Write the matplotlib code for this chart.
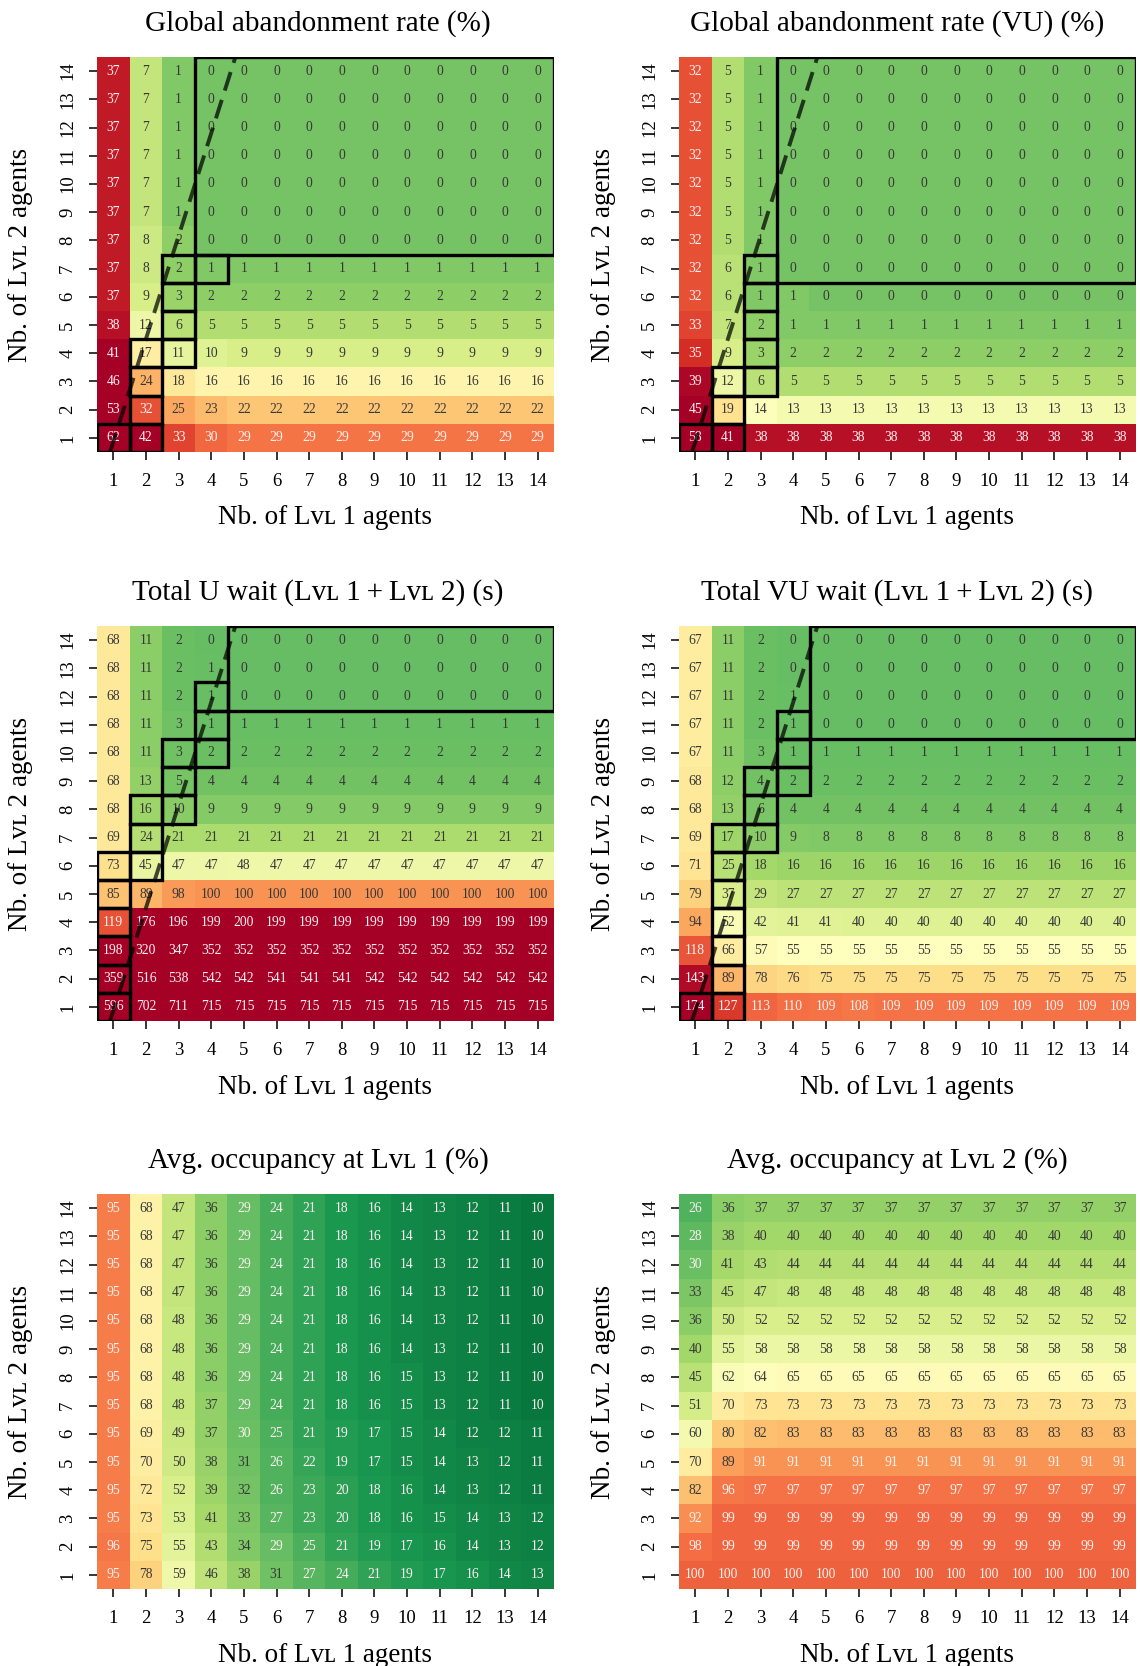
import numpy as np
import matplotlib.pyplot as plt
from matplotlib.patches import Rectangle

plt.rcParams['font.family'] = ['Liberation Serif', 'DejaVu Serif', 'DejaVu Sans']

# rows listed from top (14 Lvl 2 agents) down to bottom (1 Lvl 2 agent), cols = 1..14 Lvl 1 agents
abandon = [
    [37, 7, 1, 0, 0, 0, 0, 0, 0, 0, 0, 0, 0, 0],
    [37, 7, 1, 0, 0, 0, 0, 0, 0, 0, 0, 0, 0, 0],
    [37, 7, 1, 0, 0, 0, 0, 0, 0, 0, 0, 0, 0, 0],
    [37, 7, 1, 0, 0, 0, 0, 0, 0, 0, 0, 0, 0, 0],
    [37, 7, 1, 0, 0, 0, 0, 0, 0, 0, 0, 0, 0, 0],
    [37, 7, 1, 0, 0, 0, 0, 0, 0, 0, 0, 0, 0, 0],
    [37, 8, 2, 0, 0, 0, 0, 0, 0, 0, 0, 0, 0, 0],
    [37, 8, 2, 1, 1, 1, 1, 1, 1, 1, 1, 1, 1, 1],
    [37, 9, 3, 2, 2, 2, 2, 2, 2, 2, 2, 2, 2, 2],
    [38, 12, 6, 5, 5, 5, 5, 5, 5, 5, 5, 5, 5, 5],
    [41, 17, 11, 10, 9, 9, 9, 9, 9, 9, 9, 9, 9, 9],
    [46, 24, 18, 16, 16, 16, 16, 16, 16, 16, 16, 16, 16, 16],
    [53, 32, 25, 23, 22, 22, 22, 22, 22, 22, 22, 22, 22, 22],
    [62, 42, 33, 30, 29, 29, 29, 29, 29, 29, 29, 29, 29, 29],
]

abandon_vu = [
    [32, 5, 1, 0, 0, 0, 0, 0, 0, 0, 0, 0, 0, 0],
    [32, 5, 1, 0, 0, 0, 0, 0, 0, 0, 0, 0, 0, 0],
    [32, 5, 1, 0, 0, 0, 0, 0, 0, 0, 0, 0, 0, 0],
    [32, 5, 1, 0, 0, 0, 0, 0, 0, 0, 0, 0, 0, 0],
    [32, 5, 1, 0, 0, 0, 0, 0, 0, 0, 0, 0, 0, 0],
    [32, 5, 1, 0, 0, 0, 0, 0, 0, 0, 0, 0, 0, 0],
    [32, 5, 1, 0, 0, 0, 0, 0, 0, 0, 0, 0, 0, 0],
    [32, 6, 1, 0, 0, 0, 0, 0, 0, 0, 0, 0, 0, 0],
    [32, 6, 1, 1, 0, 0, 0, 0, 0, 0, 0, 0, 0, 0],
    [33, 7, 2, 1, 1, 1, 1, 1, 1, 1, 1, 1, 1, 1],
    [35, 9, 3, 2, 2, 2, 2, 2, 2, 2, 2, 2, 2, 2],
    [39, 12, 6, 5, 5, 5, 5, 5, 5, 5, 5, 5, 5, 5],
    [45, 19, 14, 13, 13, 13, 13, 13, 13, 13, 13, 13, 13, 13],
    [58, 41, 38, 38, 38, 38, 38, 38, 38, 38, 38, 38, 38, 38],
]

wait_u = [
    [68, 11, 2, 0, 0, 0, 0, 0, 0, 0, 0, 0, 0, 0],
    [68, 11, 2, 1, 0, 0, 0, 0, 0, 0, 0, 0, 0, 0],
    [68, 11, 2, 1, 0, 0, 0, 0, 0, 0, 0, 0, 0, 0],
    [68, 11, 3, 1, 1, 1, 1, 1, 1, 1, 1, 1, 1, 1],
    [68, 11, 3, 2, 2, 2, 2, 2, 2, 2, 2, 2, 2, 2],
    [68, 13, 5, 4, 4, 4, 4, 4, 4, 4, 4, 4, 4, 4],
    [68, 16, 10, 9, 9, 9, 9, 9, 9, 9, 9, 9, 9, 9],
    [69, 24, 21, 21, 21, 21, 21, 21, 21, 21, 21, 21, 21, 21],
    [73, 45, 47, 47, 48, 47, 47, 47, 47, 47, 47, 47, 47, 47],
    [85, 89, 98, 100, 100, 100, 100, 100, 100, 100, 100, 100, 100, 100],
    [119, 176, 196, 199, 200, 199, 199, 199, 199, 199, 199, 199, 199, 199],
    [198, 320, 347, 352, 352, 352, 352, 352, 352, 352, 352, 352, 352, 352],
    [359, 516, 538, 542, 542, 541, 541, 541, 542, 542, 542, 542, 542, 542],
    [596, 702, 711, 715, 715, 715, 715, 715, 715, 715, 715, 715, 715, 715],
]

wait_vu = [
    [67, 11, 2, 0, 0, 0, 0, 0, 0, 0, 0, 0, 0, 0],
    [67, 11, 2, 0, 0, 0, 0, 0, 0, 0, 0, 0, 0, 0],
    [67, 11, 2, 1, 0, 0, 0, 0, 0, 0, 0, 0, 0, 0],
    [67, 11, 2, 1, 0, 0, 0, 0, 0, 0, 0, 0, 0, 0],
    [67, 11, 3, 1, 1, 1, 1, 1, 1, 1, 1, 1, 1, 1],
    [68, 12, 4, 2, 2, 2, 2, 2, 2, 2, 2, 2, 2, 2],
    [68, 13, 6, 4, 4, 4, 4, 4, 4, 4, 4, 4, 4, 4],
    [69, 17, 10, 9, 8, 8, 8, 8, 8, 8, 8, 8, 8, 8],
    [71, 25, 18, 16, 16, 16, 16, 16, 16, 16, 16, 16, 16, 16],
    [79, 37, 29, 27, 27, 27, 27, 27, 27, 27, 27, 27, 27, 27],
    [94, 52, 42, 41, 41, 40, 40, 40, 40, 40, 40, 40, 40, 40],
    [118, 66, 57, 55, 55, 55, 55, 55, 55, 55, 55, 55, 55, 55],
    [143, 89, 78, 76, 75, 75, 75, 75, 75, 75, 75, 75, 75, 75],
    [174, 127, 113, 110, 109, 108, 109, 109, 109, 109, 109, 109, 109, 109],
]

occ_lvl1 = [
    [95, 68, 47, 36, 29, 24, 21, 18, 16, 14, 13, 12, 11, 10],
    [95, 68, 47, 36, 29, 24, 21, 18, 16, 14, 13, 12, 11, 10],
    [95, 68, 47, 36, 29, 24, 21, 18, 16, 14, 13, 12, 11, 10],
    [95, 68, 47, 36, 29, 24, 21, 18, 16, 14, 13, 12, 11, 10],
    [95, 68, 48, 36, 29, 24, 21, 18, 16, 14, 13, 12, 11, 10],
    [95, 68, 48, 36, 29, 24, 21, 18, 16, 14, 13, 12, 11, 10],
    [95, 68, 48, 36, 29, 24, 21, 18, 16, 15, 13, 12, 11, 10],
    [95, 68, 48, 37, 29, 24, 21, 18, 16, 15, 13, 12, 11, 10],
    [95, 69, 49, 37, 30, 25, 21, 19, 17, 15, 14, 12, 12, 11],
    [95, 70, 50, 38, 31, 26, 22, 19, 17, 15, 14, 13, 12, 11],
    [95, 72, 52, 39, 32, 26, 23, 20, 18, 16, 14, 13, 12, 11],
    [95, 73, 53, 41, 33, 27, 23, 20, 18, 16, 15, 14, 13, 12],
    [96, 75, 55, 43, 34, 29, 25, 21, 19, 17, 16, 14, 13, 12],
    [95, 78, 59, 46, 38, 31, 27, 24, 21, 19, 17, 16, 14, 13],
]

occ_lvl2 = [
    [26, 36, 37, 37, 37, 37, 37, 37, 37, 37, 37, 37, 37, 37],
    [28, 38, 40, 40, 40, 40, 40, 40, 40, 40, 40, 40, 40, 40],
    [30, 41, 43, 44, 44, 44, 44, 44, 44, 44, 44, 44, 44, 44],
    [33, 45, 47, 48, 48, 48, 48, 48, 48, 48, 48, 48, 48, 48],
    [36, 50, 52, 52, 52, 52, 52, 52, 52, 52, 52, 52, 52, 52],
    [40, 55, 58, 58, 58, 58, 58, 58, 58, 58, 58, 58, 58, 58],
    [45, 62, 64, 65, 65, 65, 65, 65, 65, 65, 65, 65, 65, 65],
    [51, 70, 73, 73, 73, 73, 73, 73, 73, 73, 73, 73, 73, 73],
    [60, 80, 82, 83, 83, 83, 83, 83, 83, 83, 83, 83, 83, 83],
    [70, 89, 91, 91, 91, 91, 91, 91, 91, 91, 91, 91, 91, 91],
    [82, 96, 97, 97, 97, 97, 97, 97, 97, 97, 97, 97, 97, 97],
    [92, 99, 99, 99, 99, 99, 99, 99, 99, 99, 99, 99, 99, 99],
    [98, 99, 99, 99, 99, 99, 99, 99, 99, 99, 99, 99, 99, 99],
    [100, 100, 100, 100, 100, 100, 100, 100, 100, 100, 100, 100, 100, 100],
]

LVL = 'L\u1d20\u029f'
titles = [
    'Global abandonment rate (%)',
    'Global abandonment rate (VU) (%)',
    f'Total U wait ({LVL} 1\u2009+\u2009{LVL} 2) (s)',
    f'Total VU wait ({LVL} 1\u2009+\u2009{LVL} 2) (s)',
    f'Avg. occupancy at {LVL} 1 (%)',
    f'Avg. occupancy at {LVL} 2 (%)',
]
panels = [abandon, abandon_vu, wait_u, wait_vu, occ_lvl1, occ_lvl2]

# colour limits per panel
vmins = [-11.5, -11.5, -37, -37, 6, 6]
vmaxs = [40, 40, 148, 148, 121, 121]
# labels are white outside [white_lo, white_hi)
white_lo = [-1, -1, -1, -1, 30.5, 30.5]
white_hi = [26, 26, 110, 105, 90, 90]

# boxed cells (col, row) and the big box (col0, col1, row0, row1)
boxed = [
    [(1, 1), (2, 1), (2, 2), (2, 3), (2, 4), (3, 4), (3, 5), (3, 6), (3, 7), (4, 7)],
    [(1, 1), (2, 1), (2, 2), (2, 3), (3, 3), (3, 4), (3, 5), (3, 6), (3, 7)],
    [(1, 1), (1, 2), (1, 3), (1, 4), (1, 5), (1, 6), (2, 6), (2, 7), (2, 8), (3, 8),
     (3, 9), (3, 10), (4, 10), (4, 11), (4, 12)],
    [(1, 1), (2, 1), (2, 2), (2, 3), (2, 4), (2, 5), (2, 6), (2, 7), (3, 7), (3, 8),
     (3, 9), (4, 9), (4, 10), (4, 11)],
    [],
    [],
]
big_box = [(4, 14, 8, 14), (4, 14, 7, 14), (5, 14, 12, 14), (5, 14, 11, 14), None, None]
ratio_x = [0.9, 4.74]
ratio_y = [0.5, 14.5]

agents = np.arange(1, 15)

W, H = 1140, 1666
fig = plt.figure(figsize=(W / 100, H / 100), dpi=100)
lefts = [97, 679]
tops = [57, 626, 1194]
aw, ah = 457, 395
title_x = [318, 897]

for i, data in enumerate(panels):
    r, c = divmod(i, 2)
    ax = fig.add_axes([lefts[c] / W, 1 - (tops[r] + ah) / H, aw / W, ah / H])
    arr = np.array(data)[::-1]
    ax.imshow(arr, origin='lower', extent=(0.5, 14.5, 0.5, 14.5), aspect='auto',
              cmap='RdYlGn_r', vmin=vmins[i], vmax=vmaxs[i], interpolation='nearest')
    for (rr, cc), v in np.ndenumerate(arr):
        white = v >= white_hi[i] or v < white_lo[i]
        ax.text(agents[cc], agents[rr], str(v), ha='center', va='center', fontsize=9.8,
                color='#fbf2f2' if white else '#383838')
    for (bc, br) in boxed[i]:
        ax.add_patch(Rectangle((bc - 0.5, br - 0.5), 1, 1, fill=False, ec='black', lw=2.4, zorder=3))
    if big_box[i] is not None:
        c0, c1, r0, r1 = big_box[i]
        ax.add_patch(Rectangle((c0 - 0.5, r0 - 0.5), c1 - c0 + 1, r1 - r0 + 1, fill=False,
                               ec='black', lw=2.4, zorder=3))
        ax.plot(ratio_x, ratio_y, color='black', alpha=0.72, lw=2.8, ls=(0, (5, 2.5)), zorder=4)
    ax.set_xlim(0.5, 14.5)
    ax.set_ylim(0.5, 14.5)
    for s in ax.spines.values():
        s.set_visible(False)
    ax.set_xticks(agents)
    ax.set_yticks(agents)
    ax.set_xticklabels([str(a) for a in agents])
    ax.set_yticklabels([str(a) for a in agents], rotation=90, va='center')
    ax.tick_params(length=6, width=1.1, labelsize=13.5, pad=9)

    cx = (lefts[c] + aw / 2) / W
    fig.text(title_x[c] / W, 1 - (tops[r] - 33) / H, titles[i], ha='center', va='center', fontsize=21)
    fig.text(cx, 1 - (tops[r] + ah + 66) / H, f'Nb. of {LVL} 1 agents', ha='center', va='center', fontsize=19.5)
    fig.text((lefts[c] - 76) / W, 1 - (tops[r] + ah / 2) / H, f'Nb. of {LVL} 2 agents',
             ha='center', va='center', rotation=90, fontsize=19.5)

fig.savefig('out.png', dpi=100)
